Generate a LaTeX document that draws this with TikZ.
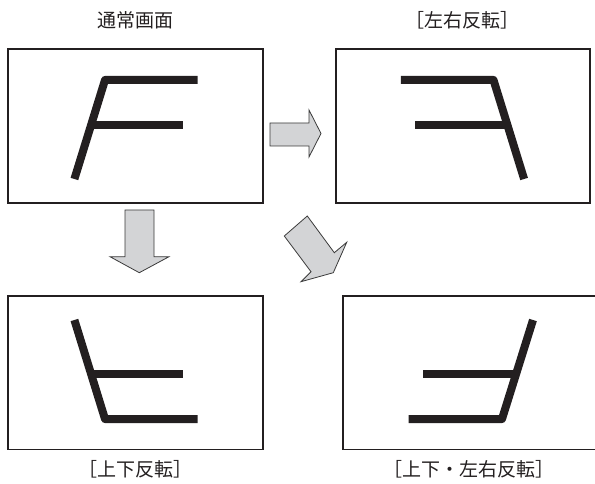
\documentclass[tikz,border=0pt]{standalone}
\usepackage{fontspec}
\newfontfamily\cjk{Noto Sans CJK JP}
\definecolor{frame}{HTML}{231F20}
\definecolor{arrowfill}{HTML}{D3D4D6}
\definecolor{arrowline}{HTML}{3A3A3A}
\tikzset{
  screen/.style={draw=frame, line width=1.3pt},
  glyph/.style={draw=frame, line width=8pt, line join=round, line cap=butt},
  blockarrow/.style={draw=arrowline, fill=arrowfill, line width=0.8pt, line join=miter},
  caption/.style={font=\cjk\fontsize{19}{22}\selectfont, text=frame, inner sep=0pt}
}
\begin{document}
\begin{tikzpicture}[x=1pt,y=-1pt]
\useasboundingbox (0,0) rectangle (595,484);
\clip (0,0) rectangle (595,484);
% captions
\node[caption] (t1) at (135.8,20) {通常画面};
\node[caption] (t2) at (462.5,20) {［左右反転］};
\node[caption] (t3) at (135.5,469) {［上下反転］};
\node[caption] (t4) at (469,469) {［上下・左右反転］};
% screens
\draw[screen] (8,49) rectangle (263,203);
\draw[screen] (336,49) rectangle (590,203);
\draw[screen] (8,296) rectangle (263,449.5);
\draw[screen] (343,296) rectangle (600,449.5);
% normal F
\draw[glyph] (74.4,179) -- (105,80) -- (197.7,80);
\draw[glyph] (90,125) -- (183.3,125);
% left-right mirrored
\draw[glyph] (524.1,179) -- (493.5,80) -- (400.8,80);
\draw[glyph] (508.5,125) -- (415.2,125);
% upside down
\draw[glyph] (74.4,320) -- (105,419) -- (197.7,419);
\draw[glyph] (90,373.5) -- (183.3,373.5);
% upside down + mirrored
\draw[glyph] (533,320) -- (502,419) -- (408.5,419);
\draw[glyph] (517,373.5) -- (423,373.5);
% arrows
\draw[blockarrow] (270,123) -- (309,123) -- (309,110) -- (321,133.5) -- (309,157) -- (309,146) -- (270,146) -- cycle;
\draw[blockarrow] (125,210) -- (154,210) -- (154,256.7) -- (169,256.7) -- (139.3,272.7) -- (110,256.7) -- (125,256.7) -- cycle;
\draw[blockarrow] (284.3,236) -- (307.3,216) -- (334.3,252.7) -- (346.7,242.3) -- (333.3,272.7) -- (301,281.7) -- (311,271.7) -- cycle;
\end{tikzpicture}
\end{document}
